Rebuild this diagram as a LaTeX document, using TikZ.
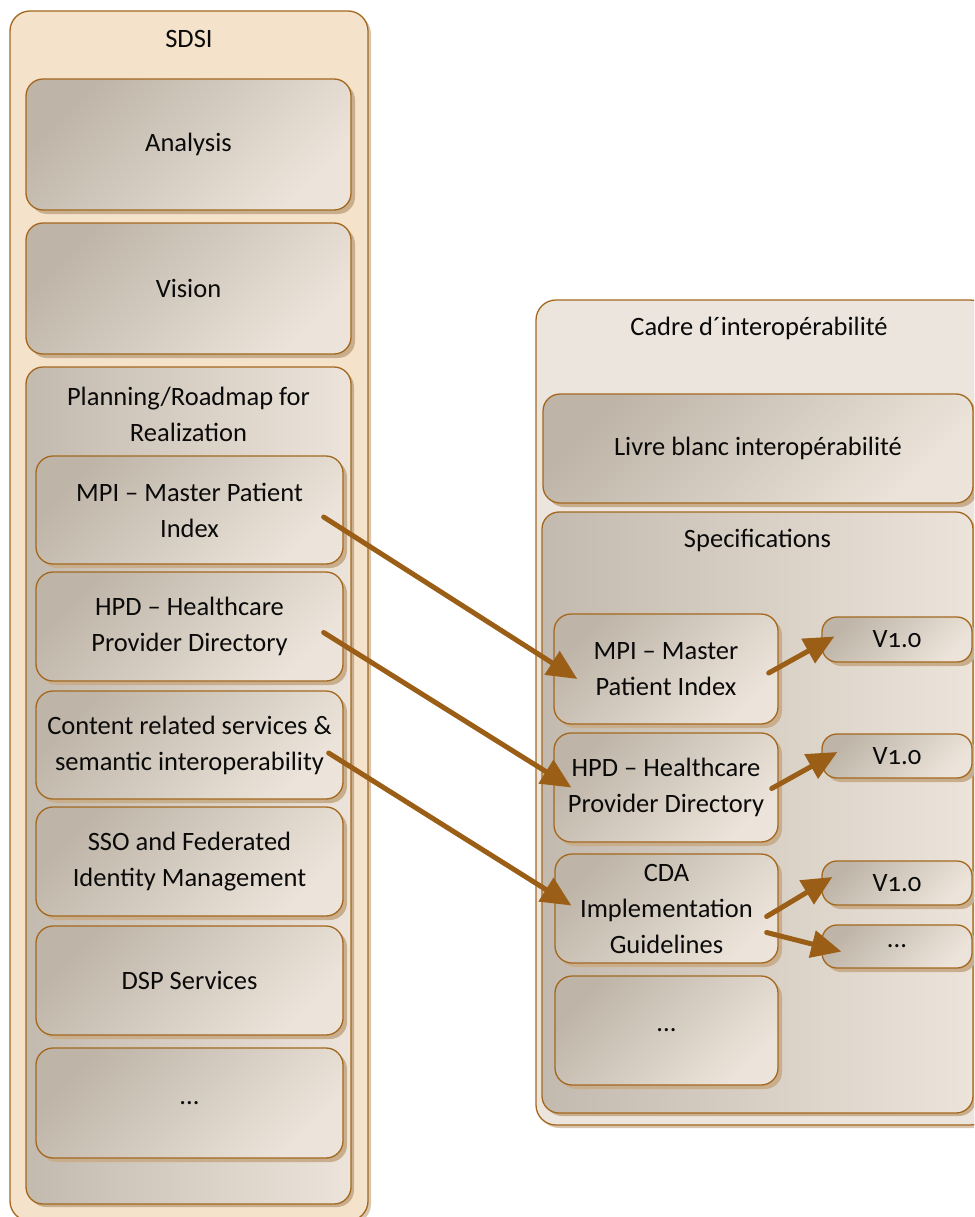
\documentclass[tikz,border=0pt]{standalone}
\usepackage{fontspec}
\setmainfont{Carlito}[Numbers=OldStyle]
\usetikzlibrary{arrows.meta,shadows,calc}
\definecolor{bordc}{RGB}{163,104,30}
\definecolor{arrc}{RGB}{154,94,22}
\definecolor{boxA}{RGB}{190,180,168}
\definecolor{boxB}{RGB}{236,228,218}
\definecolor{shadc}{RGB}{200,174,140}
\definecolor{sdsic}{RGB}{244,226,202}
\definecolor{cadrec}{RGB}{236,229,222}
\definecolor{txtc}{RGB}{10,10,10}
\tikzset{
  basebox/.style={draw=bordc, line width=1.3pt, inner sep=0pt, align=center,
    text=txtc, font=\fontsize{26.5}{36}\selectfont},
  box/.style={basebox, rounded corners=17pt, shading=axis, top color=boxA, bottom color=boxB,
    shading angle=45, general shadow={fill=shadc, shadow xshift=4pt, shadow yshift=-4pt}},
  bigbox/.style={basebox, rounded corners=17pt, shading=axis, top color=boxA!92!white, bottom color=boxB,
    shading angle=90, general shadow={fill=shadc, shadow xshift=3pt, shadow yshift=-3pt}},
  vbox/.style={box, rounded corners=15pt},
  outerbox/.style={basebox, rounded corners=20pt, general shadow={fill=shadc!70!white, shadow xshift=3pt, shadow yshift=-3pt}},
  title/.style={inner sep=0pt, align=center, text=txtc, font=\fontsize{26.5}{36}\selectfont},
  arr/.style={draw=arrc, line width=5pt, line cap=round, -{Triangle[length=30pt,width=27pt]}},
}
\begin{document}
\begin{tikzpicture}[x=1pt,y=-1pt]
\useasboundingbox (0,0) rectangle (974,1217);
\clip (0,0) rectangle (974,1217);
% left column
\node[outerbox, fill=sdsic, minimum width=358pt, minimum height=1210pt] (sdsi) at (189,616) {};
\node[title] (sdsiT) at (189,39) {SDSI};
\node[box, minimum width=325pt, minimum height=131pt] (analysis) at (188.5,144.5) {Analysis};
\node[box, minimum width=325pt, minimum height=131pt] (vision) at (188.5,288.5) {Vision};
\node[bigbox, minimum width=325pt, minimum height=837pt] (planning) at (188.5,785.5) {};
\node[title] (planT) at (188.5,414) {Planning/Roadmap for\\Realization};
\node[box, minimum width=307pt, minimum height=108pt] (mpiL) at (189.5,510) {MPI – Master Patient\\Index};
\node[box, minimum width=307pt, minimum height=109pt] (hpdL) at (189.5,626.5) {HPD – Healthcare\\Provider Directory};
\node[box, minimum width=307pt, minimum height=108pt] (contL) at (189.5,745) {Content related services \&\\semantic interoperability};
\node[box, minimum width=307pt, minimum height=109pt] (sso) at (189.5,861.5) {SSO and Federated\\Identity Management};
\node[box, minimum width=307pt, minimum height=109pt] (dsp) at (189.5,980.5) {DSP Services};
\node[box, minimum width=307pt, minimum height=110pt] (dotsL) at (189.5,1103) {...};
% right column
\node[outerbox, fill=cadrec, minimum width=454pt, minimum height=825pt] (cadre) at (763,712.5) {};
\node[title] (cadreT) at (759,328) {Cadre d´interopérabilité};
\node[box, minimum width=430pt, minimum height=109pt] (livre) at (758,448.5) {Livre blanc interopérabilité};
\node[bigbox, minimum width=431pt, minimum height=601pt] (spec) at (757.5,812.5) {};
\node[title] (specT) at (757.5,540) {Specifications};
\node[box, minimum width=224pt, minimum height=110pt] (mpiR) at (666,669) {MPI – Master\\Patient Index};
\node[box, minimum width=224pt, minimum height=109pt] (hpdR) at (666,787.5) {HPD – Healthcare\\Provider Directory};
\node[box, minimum width=223pt, minimum height=109pt] (cda) at (666.5,908.5) {CDA\\Implementation\\Guidelines};
\node[box, minimum width=223pt, minimum height=109pt] (dotsR) at (666.5,1030.5) {...};
\node[vbox, minimum width=150pt, minimum height=45pt] (v1) at (897,639.5) {V1.0};
\node[vbox, minimum width=150pt, minimum height=44pt] (v2) at (897,756) {V1.0};
\node[vbox, minimum width=150pt, minimum height=44pt] (v3) at (897,883) {V1.0};
\node[vbox, minimum width=150pt, minimum height=43pt] (vd) at (897,946.5) {...};
% connectors
\draw[arr] ($(mpiL.east)+(-20,7)$) -- ($(mpiR.west)+(24,10)$);
\draw[arr] ($(hpdL.east)+(-20,6)$) -- ($(hpdR.west)+(18,0)$);
\draw[arr] ($(contL.east)+(-15,8)$) -- ($(cda.west)+(17,-3)$);
\draw[arr] ($(mpiR.east)+(-10,4)$) -- ($(v1.west)+(13,-3)$);
\draw[arr] ($(hpdR.east)+(-7,1)$) -- ($(v2.west)+(16,-4)$);
\draw[arr] ($(cda.east)+(-12,8)$) -- ($(v3.west)+(11,-6)$);
\draw[arr] ($(cda.east)+(-12,24)$) -- ($(vd.west)+(20,5)$);
\end{tikzpicture}
\end{document}
